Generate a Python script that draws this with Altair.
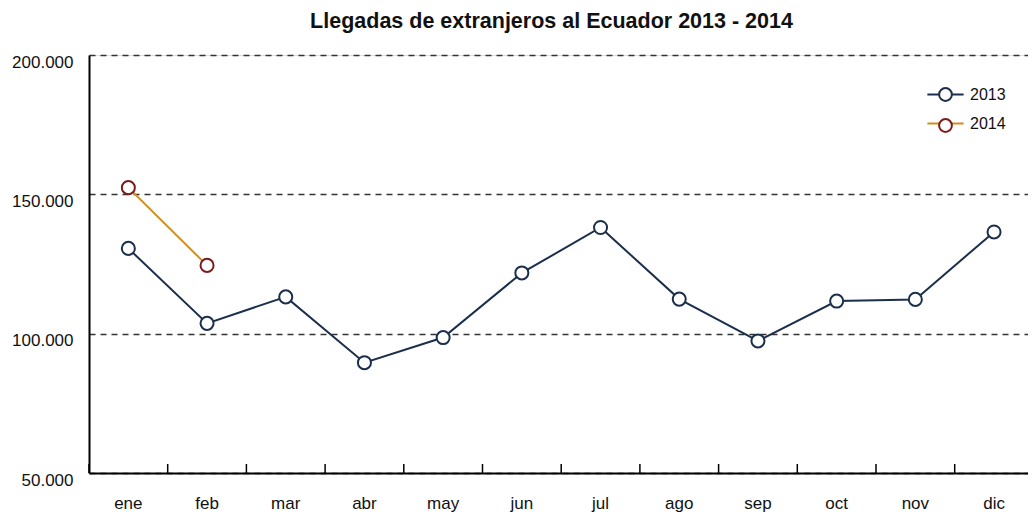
import altair as alt
import pandas as pd

meses = ["ene", "feb", "mar", "abr", "may", "jun", "jul", "ago", "sep", "oct", "nov", "dic"]
llegadas_2013 = [130600, 103700, 113200, 89600, 98600, 121800, 138100, 112400, 97400, 111700, 112300, 136500]
llegadas_2014 = [152400, 124500]
series = ["2013", "2014"]
y_ticks = [50000, 100000, 150000, 200000]

rows = []
for m, v in zip(meses, llegadas_2013):
    rows.append({"mes": m, "valor": v, "serie": "2013", "serie_p": "2013"})
for m, v in zip(meses, llegadas_2014):
    rows.append({"mes": m, "valor": v, "serie": "2014", "serie_p": "2014"})
df = pd.DataFrame(rows)
df_meses = pd.DataFrame({"mes": meses})

NAVY = "#1b2f4c"
ORANGE = "#d38d1c"
DARKRED = "#7a1b1b"
FONT = "Liberation Sans"
W, H = 939, 418
X_RANGE = [0, 944.4]

X_AXIS = alt.Axis(labelAngle=0, labelAlign="center", labelBaseline="alphabetic", ticks=False,
                  grid=False, domain=True, domainColor="black", domainWidth=2,
                  labelPadding=35, labelFontSize=17, labelFont=FONT, labelColor="#111")
X_SCALE = alt.Scale(type="band", domain=meses, range=X_RANGE, paddingInner=0, paddingOuter=0)


def x_enc(**kw):
    return alt.X("mes:N", sort=meses, title=None, scale=X_SCALE, axis=X_AXIS, **kw)


y_enc = alt.Y(
    "valor:Q", title=None,
    scale=alt.Scale(domain=[50000, 200000], nice=False, zero=False),
    axis=alt.Axis(values=y_ticks, ticks=False, domain=True, domainColor="black", domainWidth=2,
                  grid=True, gridDash=[6, 5], gridColor="#333", gridWidth=1.5,
                  labelExpr="replace(format(datum.value, ','), ',', '.')",
                  labelPadding=16, labelOffset=7, labelFontSize=17, labelFont=FONT,
                  labelColor="#111"),
)

LINE_PATH = "M-1.25,0L-0.44,0M0.44,0L1.25,0"
CIRCLE_PATH = "M0.44,0A0.44,0.44,0,1,1,-0.44,0A0.44,0.44,0,1,1,0.44,0Z"
LEG_X, LEG_Y = 841, 24

lines = alt.Chart(df).mark_line(strokeWidth=2).encode(
    x=x_enc(), y=y_enc,
    color=alt.Color("serie:N", scale=alt.Scale(domain=series, range=[NAVY, ORANGE]),
                    legend=alt.Legend(title=None, orient="none", legendX=LEG_X, legendY=LEG_Y,
                                      symbolType=LINE_PATH, symbolSize=841, symbolStrokeWidth=2,
                                      labelFontSize=16, labelFont=FONT, labelOffset=9,
                                      labelColor="#111", padding=0, rowPadding=5)),
)

points = alt.Chart(df).mark_point(filled=False, fill="white", fillOpacity=1, size=170,
                                  strokeWidth=2, opacity=1).encode(
    x=x_enc(), y=y_enc,
    stroke=alt.Stroke("serie_p:N", scale=alt.Scale(range=[NAVY, DARKRED]),
                      legend=alt.Legend(title=None, orient="none", legendX=LEG_X, legendY=LEG_Y,
                                        symbolType=CIRCLE_PATH, symbolSize=841,
                                        symbolStrokeWidth=2, symbolFillColor="white",
                                        labelFontSize=16, labelFont=FONT, labelOffset=9,
                                        labelOpacity=0, padding=0, rowPadding=5)),
)

ticks_start = alt.Chart(df_meses).mark_rule(color="black", strokeWidth=1.5).encode(
    x=x_enc(bandPosition=0),
    y=alt.value(H - 9),
    y2=alt.value(H),
)

chart = alt.layer(ticks_start, lines, points).properties(
    width=W, height=H,
    title=alt.TitleParams("Llegadas de extranjeros al Ecuador 2013 - 2014", fontSize=21.5,
                          fontWeight="bold", font=FONT, anchor="middle", dx=-7, offset=21,
                          color="#111"),
    autosize=alt.AutoSizeParams(type="none"),
    padding={"left": 81, "top": 47, "right": 0, "bottom": 44},
).configure_view(strokeWidth=0).configure(background="white")

chart.save("out.html", embed_options={"renderer": "svg", "actions": False})
